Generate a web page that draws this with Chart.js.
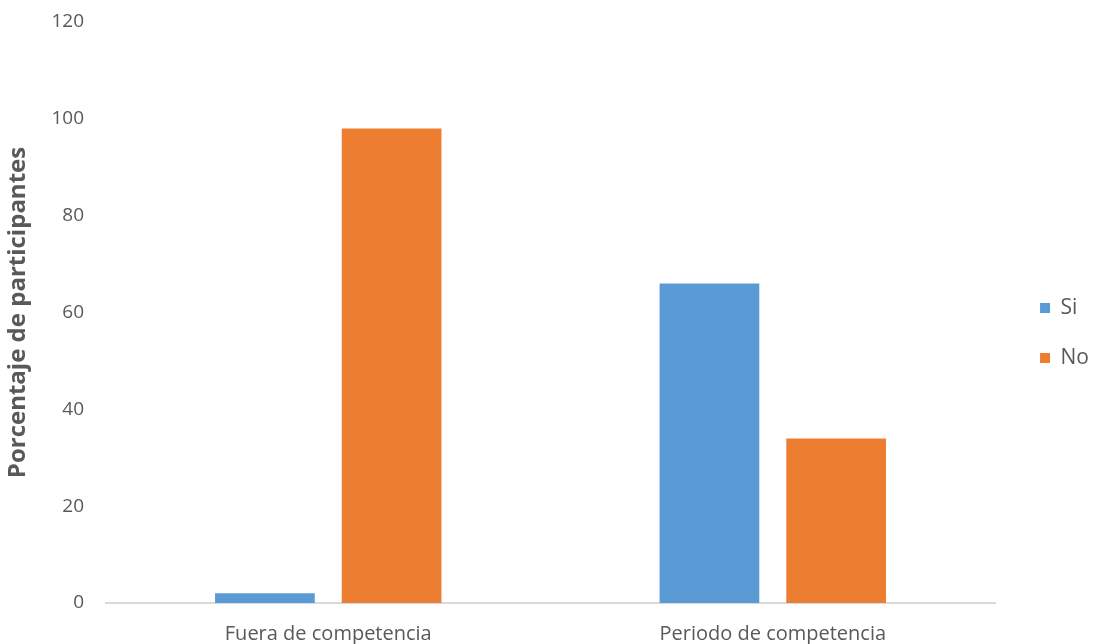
<!DOCTYPE html>
<html>
<head>
<meta charset="utf-8">
<script src="https://cdn.jsdelivr.net/npm/chart.js@4"></script>
<style>
  html, body { margin: 0; padding: 0; background: #fff; }
  #wrap { width: 1096px; height: 644px; }
</style>
</head>
<body>
<div id="wrap"><canvas id="participantesChart"></canvas></div>
<script>
const categorias = ["Fuera de competencia", "Periodo de competencia"];
const valoresSi = [2, 66];
const valoresNo = [98, 34];
const yTicks = [0, 20, 40, 60, 80, 100, 120];

const gris = '#595959';
const fuente = "'Open Sans', 'Noto Sans', sans-serif";

// the right padding keeps room beside the plot; the legend is then slid back into it
const desplazarLeyenda = {
  id: 'desplazarLeyenda',
  afterLayout(chart) {
    const lg = chart.legend;
    if (!lg) return;
    lg.left += 16;
    lg.right += 16;
  }
};

const ctx = document.getElementById('participantesChart').getContext('2d');

let chart = new Chart(ctx, {
  type: 'bar',
  data: {
    labels: categorias,
    datasets: [
      { label: 'Si', data: valoresSi, backgroundColor: '#5B9BD5' },
      { label: 'No', data: valoresNo, backgroundColor: '#ED7D31' }
    ]
  },
  plugins: [desplazarLeyenda],
  options: {
    responsive: true,
    maintainAspectRatio: false,
    animation: false,
    layout: { autoPadding: false, padding: { top: 22, right: 13, bottom: 0, left: 4 } },
    datasets: {
      bar: { categoryPercentage: 0.57, barPercentage: 0.787 }
    },
    plugins: {
      legend: {
        position: 'right',
        labels: {
          boxWidth: 10,
          boxHeight: 10,
          padding: 29,
          color: gris,
          font: { family: fuente, size: 21 }
        }
      },
      tooltip: { enabled: false }
    },
    scales: {
      x: {
        grid: { display: false, drawTicks: false },
        border: { color: '#d9d9d9', width: 2 },
        afterFit: (scale) => { scale.height = 41; },
        ticks: { color: gris, padding: 19, font: { family: fuente, size: 20 } }
      },
      y: {
        min: 0,
        max: yTicks[yTicks.length - 1],
        afterBuildTicks: (scale) => { scale.ticks = yTicks.map(v => ({ value: v })); },
        afterFit: (scale) => { scale.width = 102; scale.paddingTop = 0; scale.paddingBottom = 0; },
        grid: { display: false, drawTicks: false },
        border: { display: false },
        ticks: { color: gris, padding: 22, font: { family: fuente, size: 19 } },
        title: {
          display: true,
          text: 'Porcentaje de participantes',
          color: gris,
          font: { family: fuente, size: 24, weight: 'bold' },
          padding: 0
        }
      }
    }
  }
});
</script>
</body>
</html>
